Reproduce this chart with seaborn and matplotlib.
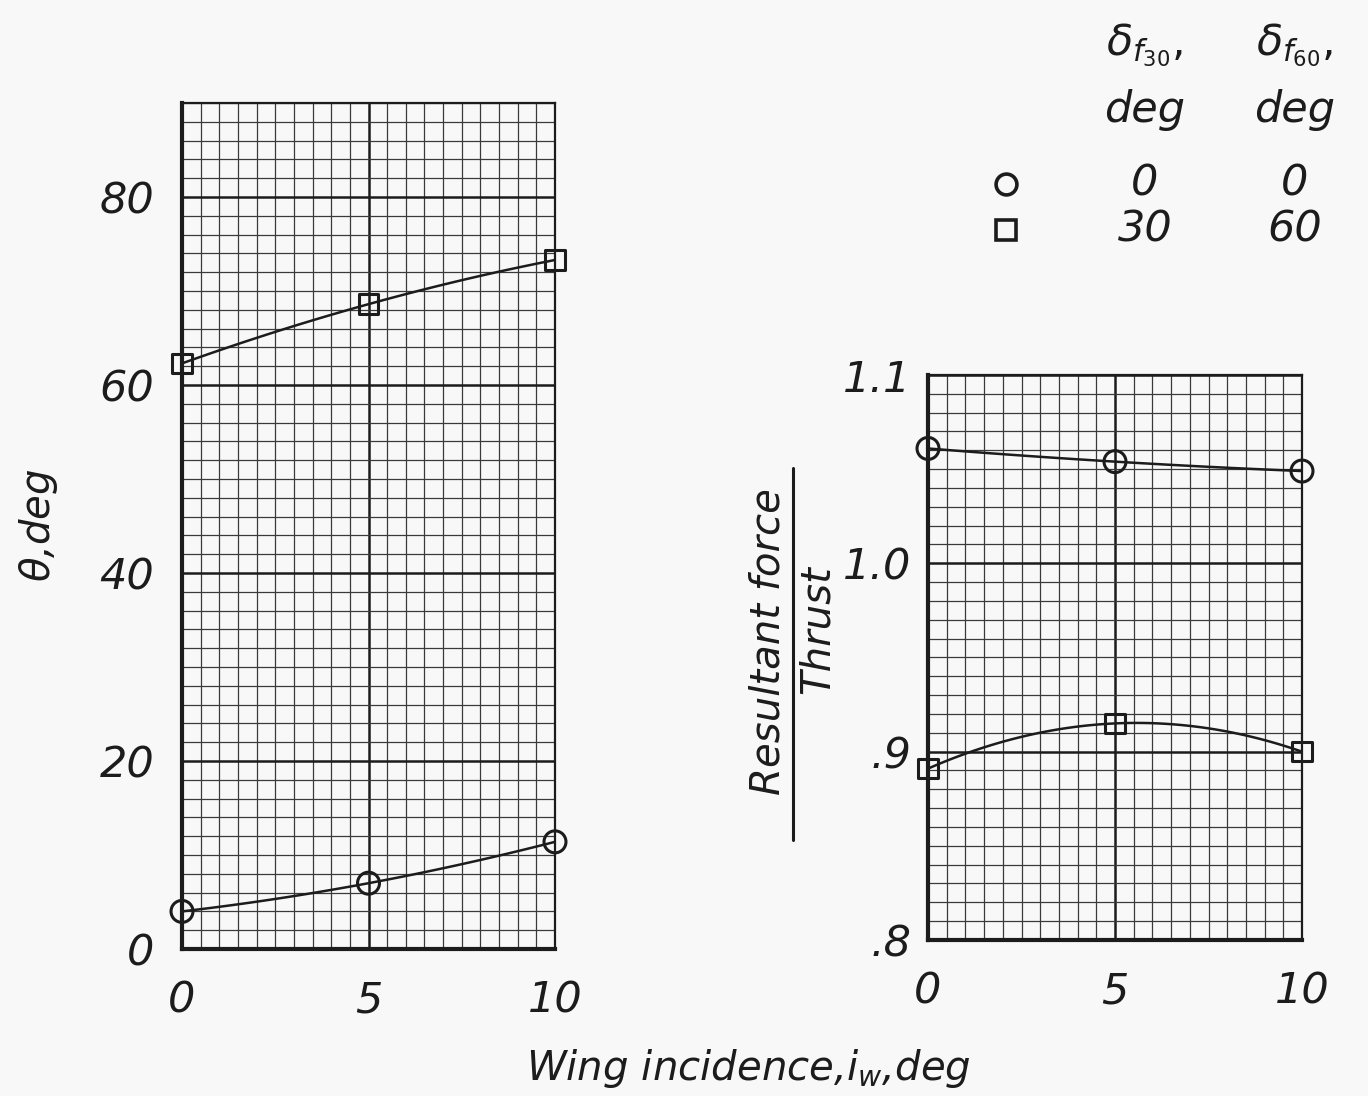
import matplotlib
matplotlib.use("Agg")
import matplotlib.pyplot as plt
from matplotlib.lines import Line2D
import numpy as np
import pandas as pd
import seaborn as sns

# ---- data ----
incidence = [0, 5, 10]
theta_flaps0 = [4.0, 7.0, 11.4]
theta_flaps_def = [62.3, 68.6, 73.3]
ratio_flaps0 = [1.061, 1.054, 1.049]
ratio_flaps_def = [0.891, 0.915, 0.900]

left_yticks = [0, 20, 40, 60, 80]
left_ytick_labels = ["0", "20", "40", "60", "80"]
right_yticks = [0.8, 0.9, 1.0, 1.1]
right_ytick_labels = [".8", ".9", "1.0", "1.1"]
xticks = [0, 5, 10]
xtick_labels = ["0", "5", "10"]

legend_rows = [("o", "0", "0"), ("s", "30", "60")]

sns.set_theme(style="white")
INK = "#1c1c1c"
BG = "#f8f8f8"
plt.rcParams["font.family"] = ["DejaVu Sans"]
plt.rcParams["mathtext.fontset"] = "dejavusans"

fig = plt.figure(figsize=(13.68, 10.96), dpi=100, facecolor=BG)
W, H = 1368.0, 1096.0

def px_axes(x0, x1, ytop, ybot):
    return fig.add_axes([x0 / W, 1 - ybot / H, (x1 - x0) / W, (ybot - ytop) / H])

axL = px_axes(182, 555, 103, 949)
axR = px_axes(928, 1302, 375, 940)

TICKFS = 31

def style_grid(ax, ymin, ymax, yminor, yticks, ylabels, ypad):
    ax.set_facecolor(BG)
    ax.set_xlim(0, 10)
    ax.set_ylim(ymin, ymax)
    ax.set_xticks(xticks)
    ax.set_xticklabels(xtick_labels)
    ax.set_yticks(yticks)
    ax.set_yticklabels(ylabels)
    ax.set_xticks(np.arange(0, 10.01, 0.5), minor=True)
    ax.set_yticks(np.arange(ymin, ymax + yminor / 2, yminor), minor=True)
    ax.grid(which="minor", color="#3a3a3a", linewidth=0.9)
    ax.grid(which="major", color=INK, linewidth=1.8)
    ax.set_axisbelow(True)
    ax.tick_params(which="both", length=0)
    ax.tick_params(axis="y", pad=ypad, labelsize=TICKFS, labelcolor=INK)
    ax.tick_params(axis="x", pad=22, labelsize=TICKFS, labelcolor=INK)
    for lab in ax.get_xticklabels() + ax.get_yticklabels():
        lab.set_fontstyle("oblique")
    for side in ["top", "right"]:
        ax.spines[side].set_color(INK)
        ax.spines[side].set_linewidth(1.6)
    for side in ["left", "bottom"]:
        ax.spines[side].set_color(INK)
        ax.spines[side].set_linewidth(3.0)
    ax.set_xlabel("")
    ax.set_ylabel("")

def draw_series(ax, y, marker, size):
    sns.regplot(x=incidence, y=y, order=2, ci=None, scatter=False, ax=ax,
                truncate=True, line_kws=dict(color=INK, linewidth=1.8))
    sns.scatterplot(x=incidence, y=y, marker=marker, s=size, ax=ax,
                    facecolor="none", edgecolor=INK, linewidth=2.2, zorder=5,
                    clip_on=False)

draw_series(axL, theta_flaps0, "o", 250)
draw_series(axL, theta_flaps_def, "s", 200)
draw_series(axR, ratio_flaps0, "o", 250)
draw_series(axR, ratio_flaps_def, "s", 200)

style_grid(axL, 0, 90, 2, left_yticks, left_ytick_labels, 20)
style_grid(axR, 0.8, 1.1, 0.01, right_yticks, right_ytick_labels, 12)

# axis labels
fig.text(748 / W, 1 - 1068 / H, r"Wing incidence,$i_w$,deg", fontsize=29,
         fontstyle="oblique", color=INK, ha="center", va="center")
fig.text(38 / W, 1 - 525 / H, r"$\theta$,deg", fontsize=29, rotation=90,
         fontstyle="oblique", color=INK, ha="center", va="center")
fig.text(768 / W, 1 - 642 / H, "Resultant force", fontsize=29, rotation=90,
         fontstyle="oblique", color=INK, ha="center", va="center")
fig.text(817 / W, 1 - 630 / H, "Thrust", fontsize=29, rotation=90,
         fontstyle="oblique", color=INK, ha="center", va="center")
fig.add_artist(Line2D([793 / W, 793 / W], [1 - 468 / H, 1 - 840 / H],
                      transform=fig.transFigure, color=INK, linewidth=2.2))

# legend table
col1, col2 = 1145, 1295
fig.text(col1 / W, 1 - 45 / H, r"$\delta_{f_{30}}$,", fontsize=31, color=INK,
         ha="center", va="center")
fig.text(col2 / W, 1 - 45 / H, r"$\delta_{f_{60}}$,", fontsize=31, color=INK,
         ha="center", va="center")
fig.text(col1 / W, 1 - 110 / H, "deg", fontsize=31, fontstyle="oblique",
         color=INK, ha="center", va="center")
fig.text(col2 / W, 1 - 110 / H, "deg", fontsize=31, fontstyle="oblique",
         color=INK, ha="center", va="center")
row_y = [184, 230]
for (mk, v1, v2), ry in zip(legend_rows, row_y):
    fig.add_artist(Line2D([1006 / W], [1 - ry / H], transform=fig.transFigure,
                          marker=mk, markersize=15 if mk == "o" else 14,
                          markerfacecolor="none", markeredgecolor=INK,
                          markeredgewidth=2.6, linestyle="none"))
    fig.text(col1 / W, 1 - ry / H, v1, fontsize=31, fontstyle="oblique",
             color=INK, ha="center", va="center")
    fig.text(col2 / W, 1 - ry / H, v2, fontsize=31, fontstyle="oblique",
             color=INK, ha="center", va="center")

fig.savefig("out.png", dpi=100, facecolor=BG)
